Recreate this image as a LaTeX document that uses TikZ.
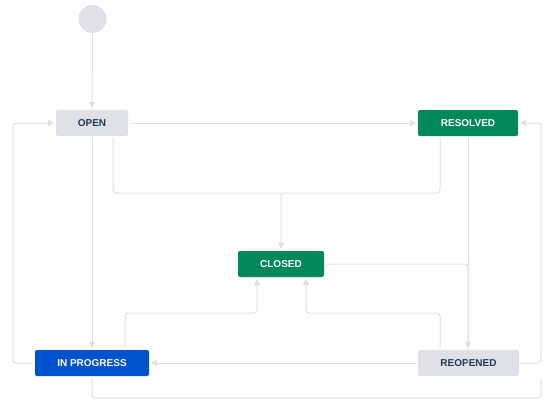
\documentclass[tikz,border=0pt]{standalone}
\usepackage{fontspec}
\setmainfont{Liberation Sans}
\usetikzlibrary{arrows.meta}
\definecolor{lgray}{HTML}{DFE1E6}
\definecolor{lline}{HTML}{DDDFE4}
\definecolor{navy}{HTML}{253858}
\definecolor{jgreen}{HTML}{00875A}
\definecolor{jblue}{HTML}{0052CC}
\tikzset{
  state/.style={rectangle, rounded corners=2pt, minimum height=26pt, inner sep=0pt,
    outer sep=2pt, font=\fontsize{10}{12}\selectfont\bfseries},
  grey/.style={state, fill=lgray, text=navy},
  green/.style={state, fill=jgreen, text=white},
  blue/.style={state, fill=jblue, text=white},
  conn/.style={draw=lline, line width=1pt, rounded corners=3pt,
    -{Triangle[width=6pt,length=6pt,fill=lline]}},
  plain/.style={draw=lline, line width=1pt, rounded corners=3pt},
}
\begin{document}
\begin{tikzpicture}[x=1pt,y=-1pt]
\useasboundingbox (0,0) rectangle (553,409);
\node[circle, fill=lgray, minimum size=28pt, inner sep=0pt, outer sep=1pt] (start) at (92.5,19) {};
\node[grey, minimum width=72pt] (open) at (92,123) {OPEN};
\node[green, minimum width=100pt] (resolved) at (468,123) {RESOLVED};
\node[green, minimum width=86pt] (closed) at (281,264) {CLOSED};
\node[blue, minimum width=114pt] (inprog) at (92,363) {IN PROGRESS};
\node[grey, minimum width=101pt] (reopened) at (468.5,363) {REOPENED};
\coordinate (m1) at (281,193);
\coordinate (c1) at (541,398);
\coordinate (c2) at (257,313);
\coordinate (c3) at (306,313);
% start -> open
\draw[conn] (start) -- (open);
% open -> resolved
\draw[conn] (open) -- (resolved);
% open -> closed, resolved -> closed
\draw[plain] ([xshift=21pt]open.south) |- (m1);
\draw[conn] ([xshift=-28pt]resolved.south) |- (m1) -- (closed.north);
% open -> in progress
\draw[conn] (open.south) -- (inprog.north);
% in progress -> open
\draw[conn] (inprog.west) -- ++(-20,0) |- (open.west);
% resolved -> reopened
\draw[conn] (resolved.south) -- (reopened.north -| resolved.south);
% closed -> reopened
\draw[plain] (closed.east) -| ([yshift=-20pt]reopened.north -| resolved.south);
% reopened -> resolved
\draw[conn] (reopened.east) -- ++(20,0) |- (resolved.east);
% in progress -> resolved
\draw[plain] (inprog.south) |- (c1) -- ++(0,-20);
% in progress -> closed
\draw[conn] ([xshift=33pt]inprog.north) |- (c2) -- ([xshift=-24pt]closed.south);
% reopened -> closed
\draw[conn] ([xshift=-28.5pt]reopened.north) |- (c3) -- ([xshift=25pt]closed.south);
% reopened -> in progress
\draw[conn] (reopened.west) -- (inprog.east);
\end{tikzpicture}
\end{document}
